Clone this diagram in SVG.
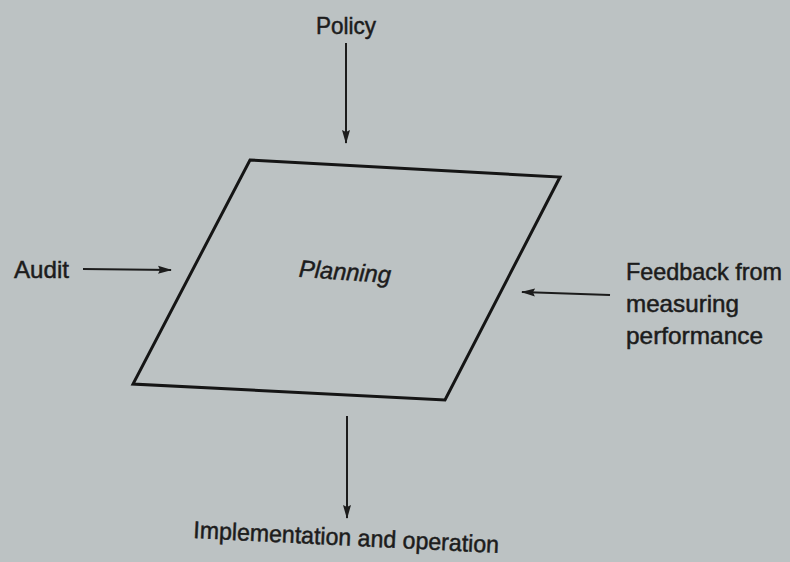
<svg xmlns="http://www.w3.org/2000/svg" width="790" height="562" viewBox="0 0 790 562">
  <defs>
    <marker id="arrow" viewBox="0 0 14 10" refX="13" refY="5" markerWidth="14" markerHeight="10" markerUnits="userSpaceOnUse" orient="auto">
      <path d="M0,1 L14,5 L0,9 L2,5 Z" fill="#1c1c1c"/>
    </marker>
    <style>
      .lbl { font-family: "Liberation Sans", Arial, sans-serif; font-size: 24px; fill: #1c1c1c; stroke: #1c1c1c; stroke-width: 0.5; }
      .edge { stroke: #1c1c1c; stroke-width: 2; fill: none; marker-end: url(#arrow); }
    </style>
  </defs>
  <rect width="790" height="562" fill="#bcc2c3"/>

  <g id="planning">
    <polygon points="250,160 560,177 445,400 133,384" fill="none" stroke="#151515" stroke-width="3" stroke-linejoin="miter"/>
    <text class="lbl" x="345" y="280" text-anchor="middle" font-style="italic" textLength="92" lengthAdjust="spacingAndGlyphs" transform="rotate(4 345 272)">Planning</text>
  </g>

  <g id="policy">
    <text class="lbl" x="346" y="34" text-anchor="middle" textLength="60" lengthAdjust="spacingAndGlyphs">Policy</text>
  </g>
  <g id="audit">
    <text class="lbl" x="14" y="278" textLength="55" lengthAdjust="spacingAndGlyphs">Audit</text>
  </g>
  <g id="feedback">
    <text class="lbl" x="626" y="280" textLength="156" lengthAdjust="spacingAndGlyphs">Feedback from</text>
    <text class="lbl" x="626" y="312" textLength="113" lengthAdjust="spacingAndGlyphs">measuring</text>
    <text class="lbl" x="626" y="344" textLength="137" lengthAdjust="spacingAndGlyphs">performance</text>
  </g>
  <g id="implementation">
    <text class="lbl" x="193" y="538" textLength="306" lengthAdjust="spacingAndGlyphs" transform="rotate(2.8 193 538)">Implementation and operation</text>
  </g>

  <g id="connectors">
    <line class="edge" x1="346" y1="43" x2="346" y2="143"/>
    <line class="edge" x1="83" y1="269" x2="171" y2="270"/>
    <line class="edge" x1="610" y1="295" x2="522" y2="292"/>
    <line class="edge" x1="347" y1="416" x2="347" y2="518"/>
  </g>
</svg>
